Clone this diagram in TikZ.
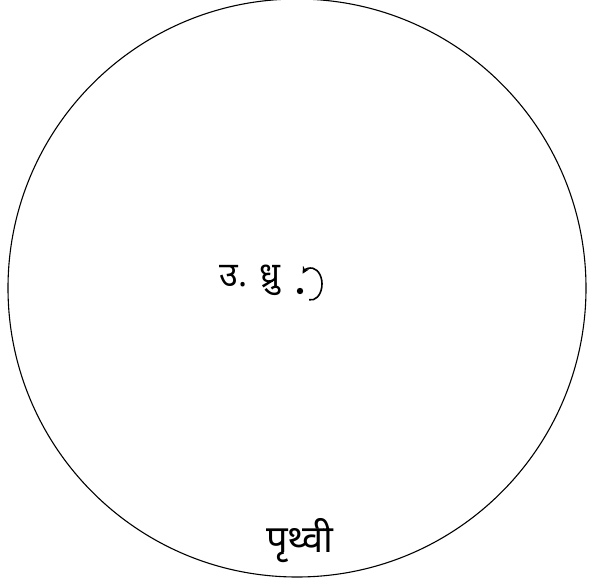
\documentclass[tikz,border=0pt]{standalone}
\usepackage{fontspec}
\newfontfamily\deva[Script=Devanagari]{Noto Sans}
\usetikzlibrary{arrows.meta}
\begin{document}
\begin{tikzpicture}[x=1pt,y=1pt,
  hand/.style={font=\deva\fontsize{34}{36}\selectfont, inner sep=0pt},
  bighand/.style={font=\deva\fontsize{38}{40}\selectfont, inner sep=0pt},
  rim/.style={draw, circle, line width=1.1pt, inner sep=0pt},
  spin/.style={line width=1.6pt, -{Stealth[length=7pt,width=7pt]}}]
\useasboundingbox (0,0) rectangle (589,-578);
\node[rim, minimum size=578pt] (earth) at (297,-288) {};
\node[hand, anchor=center] (pole) at (250,-280) {उ. ध्रु};
\fill (300,-291) circle (3.2pt) coordinate (polept);
\coordinate (spinc) at (311,-284);
\draw[spin] ([shift={(-100:11 and 16)}]spinc) arc[start angle=-100, end angle=140, x radius=11, y radius=16];
\node[bighand, anchor=center] (name) at (300,-541) {पृथ्वी};
\end{tikzpicture}
\end{document}
